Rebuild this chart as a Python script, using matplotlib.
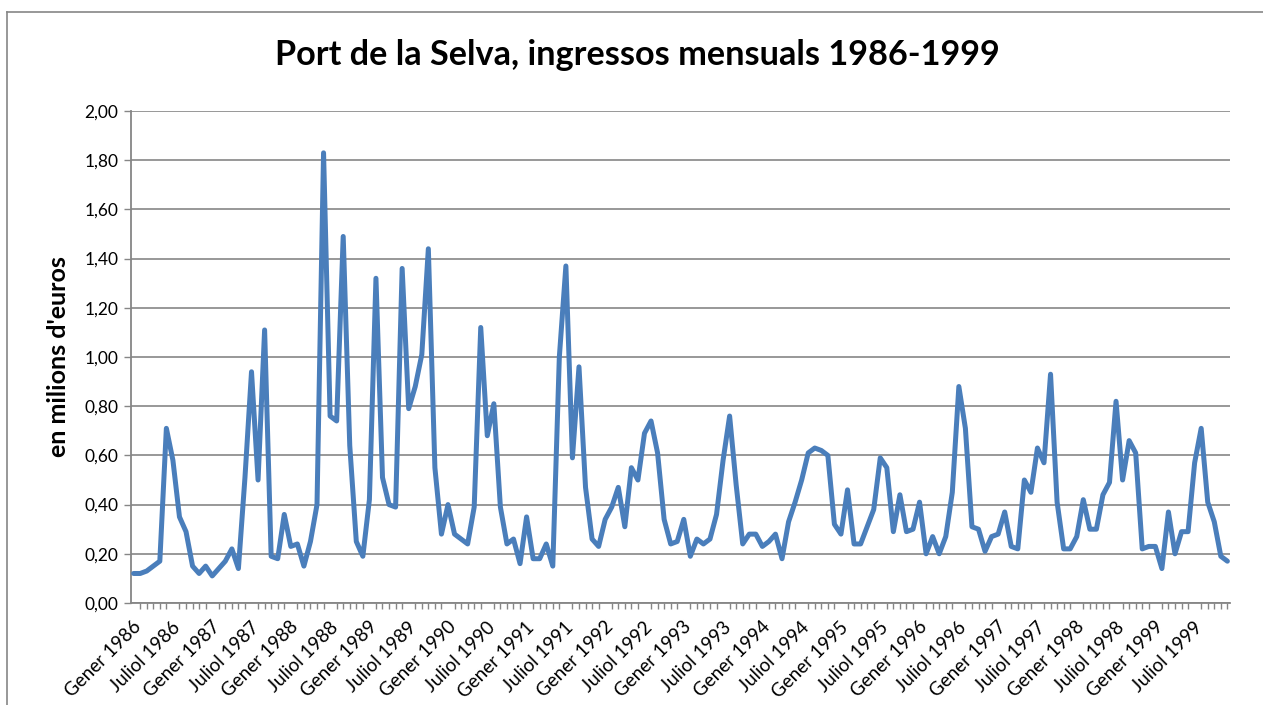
import numpy as np
import matplotlib
matplotlib.use('Agg')
import matplotlib.pyplot as plt
import matplotlib.transforms as mtransforms
from matplotlib.lines import Line2D
from matplotlib.ticker import FuncFormatter

plt.rcParams['font.family'] = ['Lato', 'DejaVu Sans']

# ingressos mensuals, milions d'euros, gener 1986 - desembre 1999
anys = list(range(1986, 2000))
valors = [
    0.12, 0.12, 0.13, 0.15, 0.17, 0.71, 0.58, 0.35, 0.29, 0.15, 0.12, 0.15,  # 1986
    0.11, 0.14, 0.17, 0.22, 0.14, 0.51, 0.94, 0.50, 1.11, 0.19, 0.18, 0.36,  # 1987
    0.23, 0.24, 0.15, 0.25, 0.40, 1.83, 0.76, 0.74, 1.49, 0.64, 0.25, 0.19,  # 1988
    0.42, 1.32, 0.51, 0.40, 0.39, 1.36, 0.79, 0.88, 1.01, 1.44, 0.55, 0.28,  # 1989
    0.40, 0.28, 0.26, 0.24, 0.39, 1.12, 0.68, 0.81, 0.39, 0.24, 0.26, 0.16,  # 1990
    0.35, 0.18, 0.18, 0.24, 0.15, 1.00, 1.37, 0.59, 0.96, 0.47, 0.26, 0.23,  # 1991
    0.34, 0.39, 0.47, 0.31, 0.55, 0.50, 0.69, 0.74, 0.61, 0.34, 0.24, 0.25,  # 1992
    0.34, 0.19, 0.26, 0.24, 0.26, 0.36, 0.58, 0.76, 0.48, 0.24, 0.28, 0.28,  # 1993
    0.23, 0.25, 0.28, 0.18, 0.33, 0.41, 0.50, 0.61, 0.63, 0.62, 0.60, 0.32,  # 1994
    0.28, 0.46, 0.24, 0.24, 0.31, 0.38, 0.59, 0.55, 0.29, 0.44, 0.29, 0.30,  # 1995
    0.41, 0.20, 0.27, 0.20, 0.27, 0.45, 0.88, 0.71, 0.31, 0.30, 0.21, 0.27,  # 1996
    0.28, 0.37, 0.23, 0.22, 0.50, 0.45, 0.63, 0.57, 0.93, 0.41, 0.22, 0.22,  # 1997
    0.27, 0.42, 0.30, 0.30, 0.44, 0.49, 0.82, 0.50, 0.66, 0.61, 0.22, 0.23,  # 1998
    0.23, 0.14, 0.37, 0.20, 0.29, 0.29, 0.57, 0.71, 0.41, 0.33, 0.19, 0.17,  # 1999
]
etiquetes = []
for a in anys:
    etiquetes += ['Gener %d' % a, 'Juliol %d' % a]

gris = '#868686'
blau = '#4A7EBB'

fig = plt.figure(figsize=(12.63, 7.05), dpi=100)
ax = fig.add_axes([131/1263, 1-603/705, (1230-131)/1263, (603-111)/705])

x = np.arange(len(valors))
ax.plot(x, valors, color=blau, lw=3.6, solid_joinstyle='round', solid_capstyle='round', zorder=3)

ax.set_xlim(-0.4, len(valors) - 0.6)
ax.set_ylim(0, 2.0)
ax.set_yticks(np.arange(0, 2.01, 0.2))
ax.yaxis.set_major_formatter(FuncFormatter(lambda v, p: ('%.2f' % v).replace('.', ',')))
ax.grid(axis='y', color=gris, lw=1.2, zorder=1)
ax.set_axisbelow(True)

ax.set_xticks(x[::6])
ax.set_xticks(x, minor=True)
ax.set_xticklabels(etiquetes, rotation=45, ha='right', fontsize=13.5)
ax.tick_params(axis='x', which='major', length=0, pad=11)
ax.tick_params(axis='x', which='minor', length=4, width=1, color=gris, direction='out')
ax.tick_params(axis='y', length=5, width=1, color=gris, labelsize=12.5, pad=4)
shift = mtransforms.ScaledTranslation(0.11, 0, fig.dpi_scale_trans)
for lab in ax.get_xticklabels():
    lab.set_transform(lab.get_transform() + shift)

for s in ['top', 'right']:
    ax.spines[s].set_visible(False)
for s in ['left', 'bottom']:
    ax.spines[s].set_color(gris)
    ax.spines[s].set_linewidth(1.3)

ax.set_ylabel("en milions d'euros", fontsize=18, fontweight='bold')
ax.yaxis.set_label_coords(-61/1099, 0.5)
fig.text(0.505, 0.922, 'Port de la Selva, ingressos mensuals 1986-1999',
         ha='center', va='center', fontsize=24.7, fontweight='bold')

# vora del gràfic
fig.add_artist(Line2D([7/1263, 7/1263], [0, 1-12/705], color=gris, lw=1.2))
fig.add_artist(Line2D([7/1263, 1], [1-12/705, 1-12/705], color=gris, lw=1.2))

fig.savefig('out.png', dpi=100)
